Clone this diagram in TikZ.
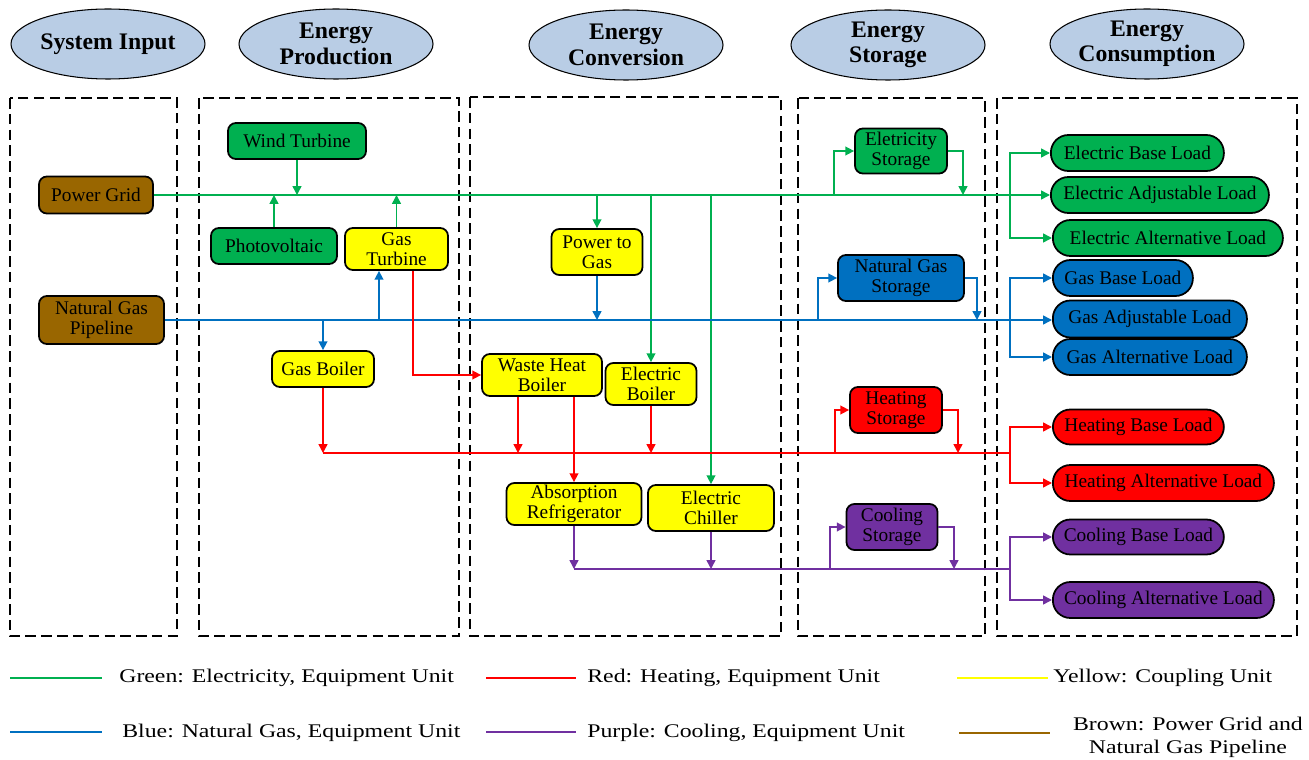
\documentclass[tikz,border=0pt]{standalone}
\usepackage{fontspec}
\setmainfont{Liberation Serif}
\usetikzlibrary{arrows.meta,calc,shapes.geometric}
\definecolor{cgreen}{HTML}{00B050}
\definecolor{cblue}{HTML}{0070C0}
\definecolor{cred}{HTML}{FF0000}
\definecolor{cpurple}{HTML}{7030A0}
\definecolor{cyellow}{HTML}{FFFF00}
\definecolor{cbrown}{HTML}{996600}
\definecolor{chead}{HTML}{B9CDE5}
\begin{document}
\begin{tikzpicture}[x=0.02cm,y=-0.02cm,
  unit/.style={draw=black, line width=1pt, rounded corners=4.5pt, align=center, inner sep=0pt, font=\fontsize{11}{11.5}\selectfont},
  sz/.style 2 args={minimum width=#1*0.02cm, minimum height=#2*0.02cm},
  load/.style={unit, rounded corners=10pt, anchor=west},
  head/.style={ellipse, draw=black, line width=0.6pt, fill=chead, minimum width=194*0.02cm, minimum height=70*0.02cm, inner sep=0pt, align=center, font=\fontsize{13.5}{14.5}\selectfont\bfseries},
  grp/.style={draw=black, line width=0.9pt, dash pattern=on 6pt off 3pt},
  con/.style={line width=0.85pt, -{Triangle[length=5pt,width=5pt]}},
  bus/.style={line width=0.85pt},
  lgline/.style={line width=1.1pt},
  lgtext/.style={anchor=west, inner sep=0pt, font=\fontsize{11}{13}\selectfont, align=center}
]
\useasboundingbox (0,0) rectangle (1309,760);

% headers
\node[head] (h1) at (108,44) {System Input};
\node[head] (h2) at (336,44) {Energy\\Production};
\node[head] (h3) at (626,45) {Energy\\Conversion};
\node[head] (h4) at (888,45) {Energy\\Storage};
\node[head] (h5) at (1147,44) {Energy\\Consumption};

% group boxes
\draw[grp] (10,98) rectangle (177,636);
\draw[grp] (199,98) rectangle (459,636);
\draw[grp] (470,97) rectangle (781,636);
\draw[grp] (798,98) rectangle (985,636);
\draw[grp] (997,98) rectangle (1297,636);

% units
\node[unit, fill=cbrown, sz={114}{37}] (pg) at (96,195) {Power Grid};
\node[unit, fill=cbrown, sz={125}{48}] (ngp) at (101.5,320) {Natural Gas\\Pipeline};
\node[unit, fill=cgreen, sz={138}{36}] (wt) at (297,141) {Wind Turbine};
\node[unit, fill=cgreen, sz={126}{36}] (pv) at (274,246) {Photovoltaic};
\node[unit, fill=cyellow, sz={103}{42}] (gt) at (396.5,249) {Gas\\Turbine};
\node[unit, fill=cyellow, sz={102}{36}] (gb) at (323,369) {Gas Boiler};
\node[unit, fill=cyellow, sz={91}{46}] (p2g) at (597,252) {Power to\\Gas};
\node[unit, fill=cyellow, sz={120}{42}] (whb) at (542,375) {Waste Heat\\Boiler};
\node[unit, fill=cyellow, sz={91}{42}] (eb) at (651,384) {Electric\\Boiler};
\node[unit, fill=cyellow, sz={135}{42}] (ar) at (574,504) {Absorption\\Refrigerator};
\node[unit, fill=cyellow, sz={126}{46}] (ec) at (711,508) {Electric\\Chiller};
\node[unit, fill=cgreen, sz={92}{45}] (es) at (901,151) {Eletricity\\Storage};
\node[unit, fill=cblue, sz={126}{46}] (ngs) at (901,278) {Natural Gas\\Storage};
\node[unit, fill=cred, sz={92}{46}] (hs) at (896,410) {Heating\\Storage};
\node[unit, fill=cpurple, sz={91}{46}] (cs) at (892,527) {Cooling\\Storage};

% loads
\node[load, fill=cgreen, sz={173}{36}] (ebl) at (1050,153) {Electric Base Load};
\node[load, fill=cgreen, sz={218}{36}] (eal) at (1050,195) {Electric Adjustable Load};
\node[load, fill=cgreen, sz={230}{36}] (ealt) at (1052,238) {Electric Alternative Load};
\node[load, fill=cblue, sz={140}{36}] (gbl) at (1052,278) {Gas Base Load};
\node[load, fill=cblue, sz={194}{37}] (gal) at (1052,319) {Gas Adjustable Load};
\node[load, fill=cblue, sz={194}{36}] (galt) at (1052,357) {Gas Alternative Load};
\node[load, fill=cred, sz={171}{35}] (hbl) at (1052,427) {Heating Base Load};
\node[load, fill=cred, sz={221}{36}] (hal) at (1052,483) {Heating Alternative Load};
\node[load, fill=cpurple, sz={171}{35}] (cbl) at (1052,537) {Cooling Base Load};
\node[load, fill=cpurple, sz={221}{36}] (cal) at (1052,600) {Cooling Alternative Load};

% bus coordinates
\coordinate (gsin) at (834,195);
\coordinate (gsout) at (963,195);
\coordinate (gsplit) at (1010,195);
\coordinate (bgt) at (379,320);
\coordinate (bsin) at (818,320);
\coordinate (bsout) at (977,320);
\coordinate (bsplit) at (1010,320);
\coordinate (rstart) at (323,453);
\coordinate (rsin) at (835,453);
\coordinate (rsout) at (958,453);
\coordinate (rsplit) at (1010,453);
\coordinate (pstart) at (574,569);
\coordinate (psin) at (830,569);
\coordinate (psout) at (954,569);
\coordinate (psplit) at (1010,569);

% green electricity
\draw[con, cgreen] (pg.east) -- (pg.east -| eal.west);
\draw[con, cgreen] (wt.south) -- (wt.south |- pg.east);
\draw[con, cgreen] (pv.north) -- (pv.north |- pg.east);
\draw[con, cgreen] (gt.north) -- (gt.north |- pg.east);
\draw[con, cgreen] (p2g.north |- pg.east) -- (p2g.north);
\draw[con, cgreen] (eb.north |- pg.east) -- (eb.north);
\draw[con, cgreen] (ec.north |- pg.east) -- (ec.north);
\draw[con, cgreen] (gsin) |- (es.west);
\draw[con, cgreen] (es.east) -| (gsout);
\draw[con, cgreen] (gsplit) |- (ebl.west);
\draw[con, cgreen] (gsplit) |- (ealt.west);

% blue natural gas
\draw[con, cblue] (ngp.east) -- (ngp.east -| gal.west);
\draw[con, cblue] (gb.north |- ngp.east) -- (gb.north);
\draw[con, cblue] (bgt) -- (bgt |- gt.south);
\draw[con, cblue] (p2g.south) -- (p2g.south |- ngp.east);
\draw[con, cblue] (bsin) |- (ngs.west);
\draw[con, cblue] (ngs.east) -| (bsout);
\draw[con, cblue] (bsplit) |- (gbl.west);
\draw[con, cblue] (bsplit) |- (galt.west);

% red heating
\draw[con, cred] ($(gt.south)+(16.5,0)$) |- (whb.west);
\draw[bus, cred] (rstart) -- (rsplit);
\draw[con, cred] (gb.south) -- (gb.south |- rstart);
\draw[con, cred] ($(whb.south)+(-24,0)$) -- ($(whb.south |- rstart)+(-24,0)$);
\draw[con, cred] (ar.north |- whb.south) -- (ar.north);
\draw[con, cred] (eb.south) -- (eb.south |- rstart);
\draw[con, cred] (rsin) |- (hs.west);
\draw[con, cred] (hs.east) -| (rsout);
\draw[con, cred] (rsplit) |- (hbl.west);
\draw[con, cred] (rsplit) |- (hal.west);

% purple cooling
\draw[bus, cpurple] (ar.south |- pstart) -- (psplit);
\draw[con, cpurple] (ar.south) -- (ar.south |- pstart);
\draw[con, cpurple] (ec.south) -- (ec.south |- pstart);
\draw[con, cpurple] (psin) |- (cs.west);
\draw[con, cpurple] (cs.east) -| (psout);
\draw[con, cpurple] (psplit) |- (cbl.west);
\draw[con, cpurple] (psplit) |- (cal.west);

% legend
\coordinate (l1) at (10,678); \coordinate (l2) at (486,678); \coordinate (l3) at (957,678);
\coordinate (l4) at (10,732); \coordinate (l5) at (486,732); \coordinate (l6) at (959,733);
\node[lgtext] (t1) at (119,678) {\scalebox{1.23}[1]{Green: Electricity, Equipment Unit}};
\node[lgtext] (t2) at (587,678) {\scalebox{1.23}[1]{Red: Heating, Equipment Unit}};
\node[lgtext] (t3) at (1053,678) {\scalebox{1.23}[1]{Yellow: Coupling Unit}};
\node[lgtext] (t4) at (122,733) {\scalebox{1.23}[1]{Blue: Natural Gas, Equipment Unit}};
\node[lgtext] (t5) at (587,733) {\scalebox{1.23}[1]{Purple: Cooling, Equipment Unit}};
\node[lgtext, anchor=center] (t6) at (1188,737) {\scalebox{1.23}[1]{Brown: Power Grid and}\\\scalebox{1.23}[1]{Natural Gas Pipeline}};
\draw[lgline, cgreen] (l1) -- ++(92,0);
\draw[lgline, cred] (l2) -- ++(90,0);
\draw[lgline, cyellow] (l3) -- ++(91,0);
\draw[lgline, cblue] (l4) -- ++(92,0);
\draw[lgline, cpurple] (l5) -- ++(90,0);
\draw[lgline, cbrown] (l6) -- ++(91,0);
\end{tikzpicture}
\end{document}
